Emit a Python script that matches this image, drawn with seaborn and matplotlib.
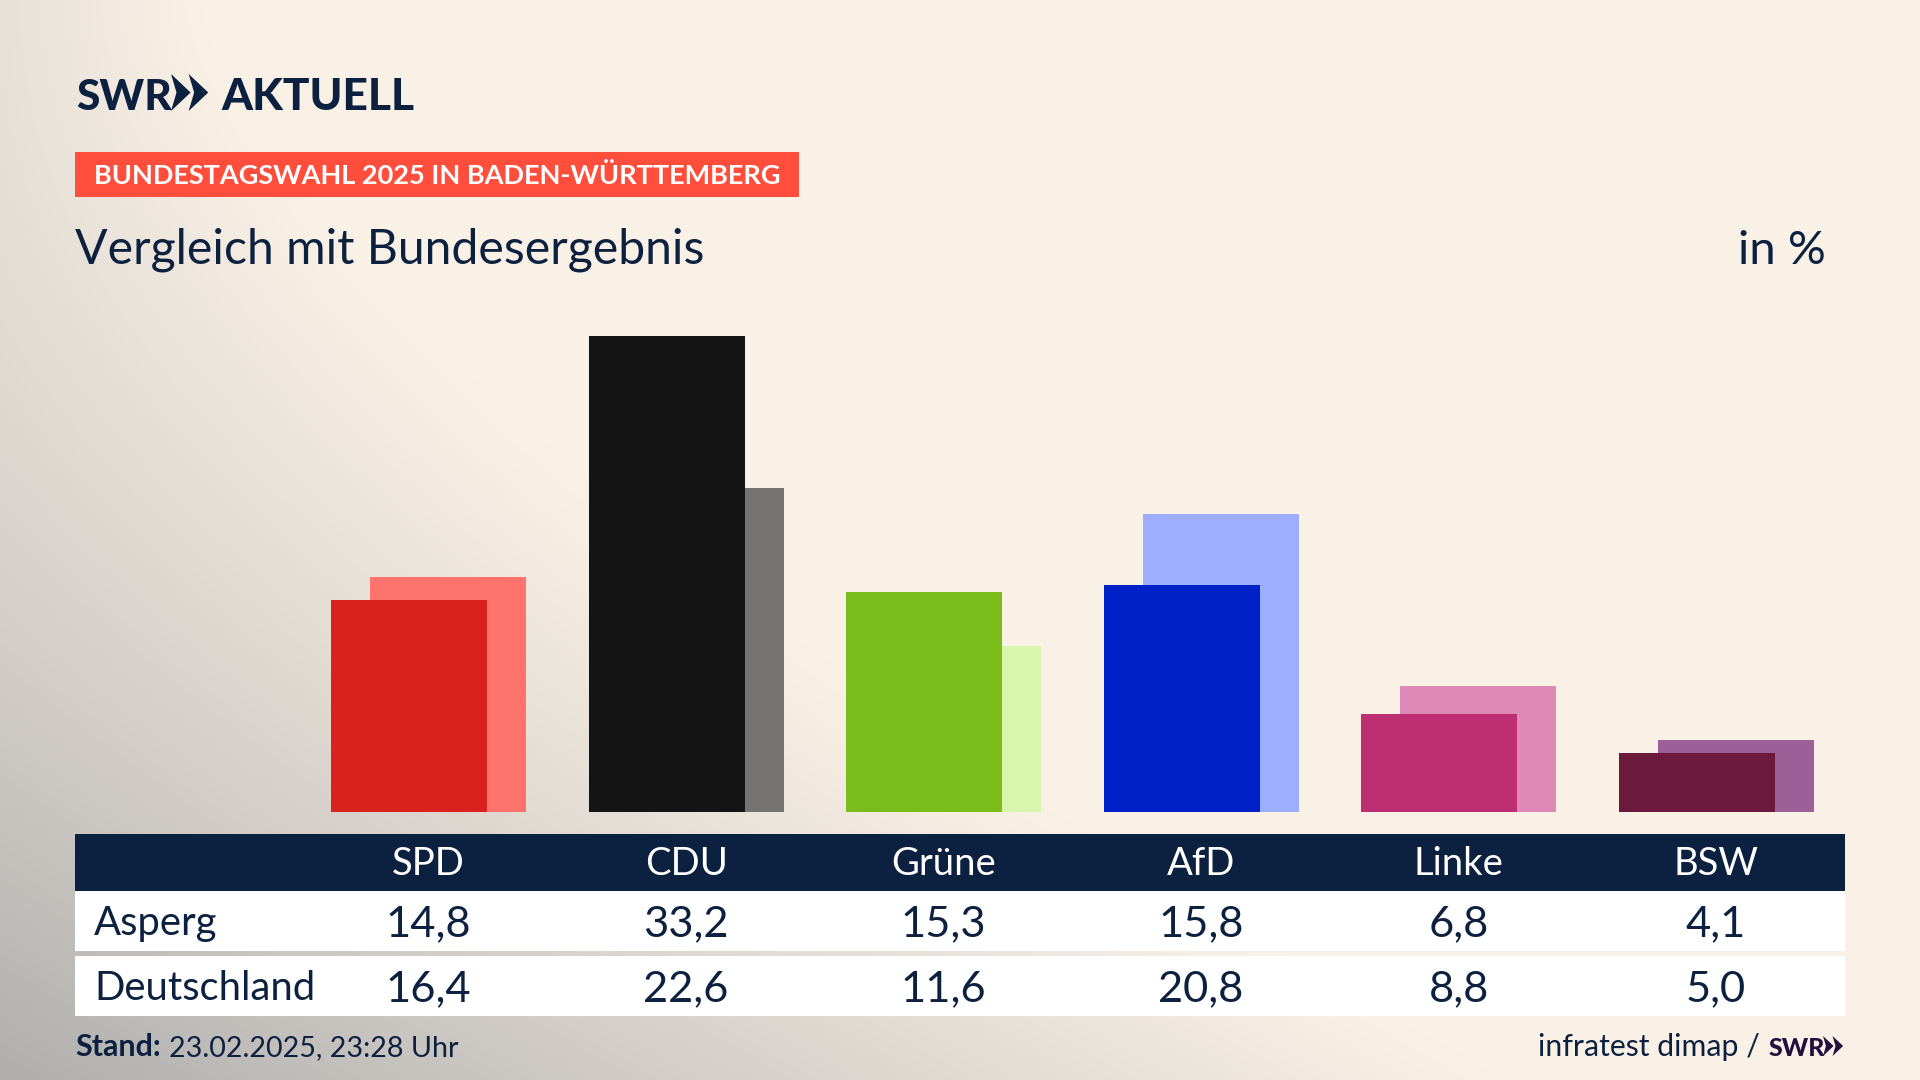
import numpy as np
import pandas as pd
import seaborn as sns
import matplotlib
matplotlib.use("Agg")
import matplotlib.pyplot as plt
from matplotlib.patches import Rectangle, Polygon

W, H = 1920, 1080

parties = ["SPD", "CDU", "Grüne", "AfD", "Linke", "BSW"]
asperg = [14.8, 33.2, 15.3, 15.8, 6.8, 4.1]
deutschland = [16.4, 22.6, 11.6, 20.8, 8.8, 5.0]
colors_front = ["#D9211D", "#141414", "#7ABD1B", "#0020C8", "#BD2E73", "#6B1A3E"]
colors_back = ["#FF736D", "#747371", "#D9F7AC", "#9DAEFF", "#DF89B7", "#9C5F98"]

NAVY = "#0C2040"
RED = "#FF4F3C"

sns.set_theme(style="white")
plt.rcParams["font.family"] = ["Lato", "DejaVu Sans"]

fig = plt.figure(figsize=(W / 100, H / 100), dpi=100)

# background + table live in pixel coords
bg = fig.add_axes([0, 0, 1, 1], zorder=0)
bg.set_xlim(0, W)
bg.set_ylim(H, 0)
bg.axis("off")

yy, xx = np.mgrid[0:H:270j, 0:W:480j]
reach = 200 + 1300 * (yy / H) ** 1.5
dark = 0.25 + 0.75 * (yy / H) ** 1.8
t = np.clip(1 - xx / reach, 0, 1) ** 1.05 * dark
cream = np.array([250, 241, 230]) / 255
gray = np.array([176, 175, 174]) / 255
img = cream[None, None, :] + (gray - cream)[None, None, :] * t[..., None]
bg.imshow(img, extent=(0, W, H, 0), aspect="auto", interpolation="bilinear", zorder=0)


def chevrons(ax, x, y, h, color):
    w = h * 0.53
    for dx in (0, w * 0.9):
        pts = [(x + dx, y), (x + dx + w, y + h / 2), (x + dx, y + h), (x + dx + w * 0.28, y + h / 2)]
        ax.add_patch(Polygon(pts, closed=True, color=color, lw=0))


def put(x, y, s, size, color=NAVY, weight="normal", ha="left"):
    bg.text(x, y, s, fontsize=size, color=color, fontweight=weight, ha=ha, va="baseline")


# logo
put(76, 110.5, "SWR", 30.5, weight="black")
chevrons(bg, 171, 74, 37, NAVY)
put(221, 110.5, "AKTUELL", 31.9, weight="black")

# red banner
bg.add_patch(Rectangle((75, 152), 724, 45, color=RED, lw=0))
put(94, 184.5, "BUNDESTAGSWAHL 2025 IN BADEN-WÜRTTEMBERG", 19.5, color="white", weight="bold")

put(75, 264, "Vergleich mit Bundesergebnis", 34.7)
put(1826, 264, "in %", 34, ha="right")

# table
bg.add_patch(Rectangle((75, 834), 1770, 57, color=NAVY, lw=0))
bg.add_patch(Rectangle((75, 891), 1770, 60, color="white", lw=0))
bg.add_patch(Rectangle((75, 956), 1770, 60, color="white", lw=0))
put(94, 935, "Asperg", 28.8)
put(94, 1000, "Deutschland", 28.8)

x_first, x_step = 428.6, 257.5
for i, party in enumerate(parties):
    cx = x_first + i * x_step
    put(cx, 875, party, 27.5, color="white", ha="center")
    put(cx, 936, f"{asperg[i]:.1f}".replace(".", ","), 31.3, ha="center")
    put(cx, 1001, f"{deutschland[i]:.1f}".replace(".", ","), 31.3, ha="center")

# footer
put(75, 1056, "Stand:", 22, weight="bold")
put(169, 1056, "23.02.2025, 23:28 Uhr", 20.6)
put(1760, 1056, "infratest dimap /", 21.8, ha="right")
put(1769, 1056, "SWR", 18, color="#22103F", weight="black")
chevrons(bg, 1823, 1036, 20, "#22103F")

# bars, baseline at y=812, 14.35 px per percent
top, base = 230, 812
ax = fig.add_axes([0, 1 - base / H, 1, (base - top) / H], zorder=1)
ax.patch.set_alpha(0)

idx = np.arange(len(parties))
df = pd.DataFrame({"idx": idx, "party": parties, "asperg": asperg, "deutschland": deutschland})
offset = 19.5 / x_step

sns.barplot(data=df, x=df["idx"] + offset, y="deutschland", hue="party", palette=colors_back,
            native_scale=True, width=0.606, saturation=1, dodge=False, legend=False,
            linewidth=0, edgecolor="none", ax=ax)
sns.barplot(data=df, x=df["idx"] - offset, y="asperg", hue="party", palette=colors_front,
            native_scale=True, width=0.606, saturation=1, dodge=False, legend=False,
            linewidth=0, edgecolor="none", ax=ax)

ax.set_xlim(-x_first / x_step, (W - x_first) / x_step)
ax.set_ylim(0, (base - top) / 14.35)
ax.axis("off")

fig.savefig("out.png", dpi=100)
